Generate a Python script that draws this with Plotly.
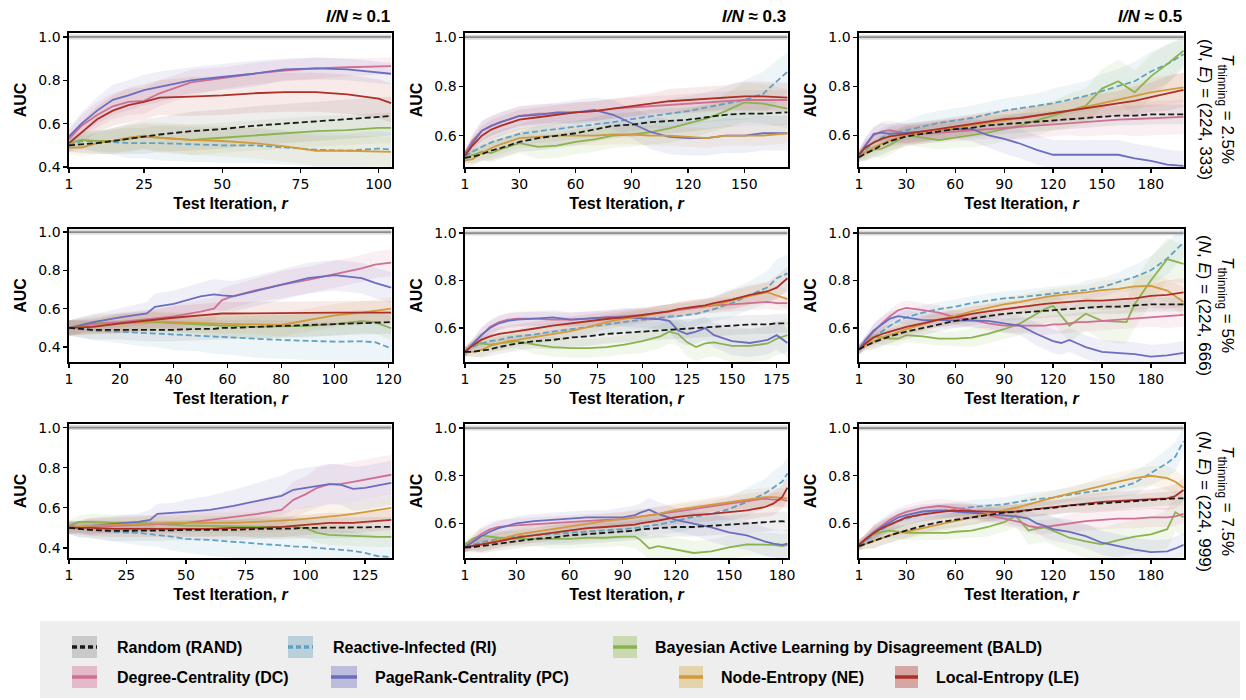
import plotly.graph_objects as go

W, H = 1246, 700

SERIES = ["RAND", "RI", "BALD", "DC", "PC", "NE", "LE"]
DRAW_ORDER = ["RI", "BALD", "DC", "PC", "NE", "LE", "RAND"]
LABELS = {
    "RAND": "Random (RAND)",
    "RI": "Reactive-Infected (RI)",
    "BALD": "Bayesian Active Learning by Disagreement (BALD)",
    "DC": "Degree-Centrality (DC)",
    "PC": "PageRank-Centrality (PC)",
    "NE": "Node-Entropy (NE)",
    "LE": "Local-Entropy (LE)",
}
LINE_COLORS = {"RAND": "#1a1a1a", "RI": "#62a0c2", "BALD": "#8ab350", "DC": "#cf6f93",
               "PC": "#6b6dbf", "NE": "#d29a3c", "LE": "#ad2f25"}
BAND_COLORS = {"RAND": "rgba(120,120,120,0.13)", "RI": "rgba(98,160,194,0.11)",
               "BALD": "rgba(138,179,80,0.11)", "DC": "rgba(207,111,147,0.11)",
               "PC": "rgba(107,109,191,0.11)", "NE": "rgba(210,154,60,0.11)",
               "LE": "rgba(173,47,37,0.10)"}
SWATCH_COLORS = {"RAND": "#c9c9c9", "RI": "#b9d0db", "BALD": "#c9dab0", "DC": "#e4b9c9",
                 "PC": "#bcbcdc", "NE": "#e5d3ab", "LE": "#d6a6a3"}
DASH = {"RAND": "6px,3px", "RI": "6px,3px"}

PERFECT_AUC = 1.0
COL_RATIO = ["0.1", "0.3", "0.5"]
ROW_THINNING = ["2.5%", "5%", "7.5%"]
ROW_NE = ["(224, 333)", "(224, 666)", "(224, 999)"]

# ---------------- Row 1 (T_thinning = 2.5%) ----------------
R1C1_X = [1, 5, 10, 15, 20, 25, 30, 40, 50, 60, 70, 80, 90, 100, 104]
R1C1_RAND = [0.50, 0.505, 0.51, 0.52, 0.53, 0.54, 0.55, 0.565, 0.575, 0.59, 0.60, 0.61, 0.62, 0.63, 0.635]
R1C1_RI = [0.50, 0.52, 0.52, 0.515, 0.51, 0.51, 0.51, 0.505, 0.50, 0.50, 0.49, 0.48, 0.475, 0.485, 0.48]
R1C1_BALD = [0.51, 0.525, 0.52, 0.52, 0.53, 0.54, 0.535, 0.525, 0.535, 0.545, 0.555, 0.565, 0.57, 0.58, 0.58]
R1C1_DC = [0.53, 0.59, 0.64, 0.68, 0.70, 0.705, 0.74, 0.79, 0.81, 0.83, 0.845, 0.855, 0.86, 0.865, 0.865]
R1C1_PC = [0.54, 0.60, 0.66, 0.71, 0.73, 0.755, 0.77, 0.80, 0.815, 0.83, 0.85, 0.855, 0.85, 0.835, 0.83]
R1C1_NE = [0.49, 0.49, 0.51, 0.52, 0.535, 0.545, 0.535, 0.525, 0.52, 0.51, 0.495, 0.475, 0.475, 0.47, 0.47]
R1C1_LE = [0.51, 0.56, 0.62, 0.66, 0.685, 0.70, 0.72, 0.725, 0.73, 0.74, 0.745, 0.745, 0.735, 0.715, 0.695]
R1C1_RAND_SD = [0.03, 0.04, 0.05, 0.06, 0.07, 0.08, 0.08, 0.09, 0.09, 0.09, 0.09, 0.09, 0.09, 0.09, 0.09]
R1C1_RI_SD = [0.03, 0.04, 0.05, 0.06, 0.07, 0.07, 0.08, 0.08, 0.08, 0.08, 0.08, 0.08, 0.08, 0.08, 0.08]
R1C1_BALD_SD = [0.03, 0.04, 0.05, 0.05, 0.06, 0.06, 0.06, 0.07, 0.07, 0.07, 0.07, 0.07, 0.07, 0.07, 0.07]
R1C1_DC_SD = [0.04, 0.05, 0.06, 0.06, 0.06, 0.06, 0.06, 0.06, 0.05, 0.05, 0.05, 0.05, 0.04, 0.04, 0.04]
R1C1_PC_SD = [0.04, 0.05, 0.06, 0.07, 0.07, 0.07, 0.07, 0.06, 0.06, 0.06, 0.05, 0.05, 0.05, 0.05, 0.05]
R1C1_NE_SD = [0.03, 0.04, 0.05, 0.06, 0.06, 0.06, 0.07, 0.07, 0.07, 0.07, 0.07, 0.07, 0.07, 0.07, 0.07]
R1C1_LE_SD = [0.04, 0.05, 0.06, 0.07, 0.08, 0.08, 0.08, 0.09, 0.09, 0.09, 0.09, 0.09, 0.09, 0.09, 0.09]

R1C2_X = [1, 5, 10, 15, 20, 30, 40, 50, 60, 70, 80, 90, 100, 110, 120, 130, 140, 150, 160, 173]
R1C2_RAND = [0.51, 0.515, 0.525, 0.54, 0.55, 0.575, 0.59, 0.60, 0.61, 0.625, 0.64, 0.645, 0.655, 0.66, 0.665, 0.675, 0.685, 0.69, 0.69, 0.695]
R1C2_RI = [0.515, 0.535, 0.555, 0.573, 0.585, 0.607, 0.618, 0.627, 0.637, 0.645, 0.655, 0.667, 0.68, 0.69, 0.70, 0.716, 0.73, 0.745, 0.77, 0.86]
R1C2_BALD = [0.51, 0.52, 0.535, 0.53, 0.545, 0.57, 0.555, 0.56, 0.575, 0.585, 0.60, 0.605, 0.615, 0.63, 0.65, 0.67, 0.70, 0.735, 0.73, 0.71]
R1C2_DC = [0.53, 0.58, 0.62, 0.64, 0.655, 0.68, 0.69, 0.69, 0.695, 0.70, 0.71, 0.715, 0.72, 0.725, 0.73, 0.735, 0.74, 0.745, 0.745, 0.745]
R1C2_PC = [0.52, 0.57, 0.62, 0.64, 0.655, 0.68, 0.685, 0.695, 0.695, 0.705, 0.685, 0.65, 0.615, 0.595, 0.59, 0.59, 0.60, 0.60, 0.61, 0.61]
R1C2_NE = [0.50, 0.505, 0.53, 0.55, 0.565, 0.59, 0.595, 0.60, 0.60, 0.60, 0.605, 0.605, 0.60, 0.60, 0.595, 0.59, 0.60, 0.60, 0.60, 0.61]
R1C2_LE = [0.52, 0.56, 0.60, 0.625, 0.64, 0.665, 0.675, 0.685, 0.695, 0.70, 0.71, 0.72, 0.73, 0.74, 0.745, 0.75, 0.755, 0.76, 0.76, 0.755]
R1C2_RAND_SD = [0.02, 0.03, 0.03, 0.04, 0.04, 0.04, 0.05, 0.05, 0.05, 0.05, 0.05, 0.05, 0.05, 0.05, 0.05, 0.05, 0.05, 0.05, 0.05, 0.05]
R1C2_RI_SD = [0.02, 0.03, 0.03, 0.04, 0.04, 0.04, 0.05, 0.05, 0.05, 0.05, 0.05, 0.05, 0.05, 0.06, 0.06, 0.06, 0.07, 0.08, 0.09, 0.08]
R1C2_BALD_SD = [0.02, 0.03, 0.03, 0.04, 0.04, 0.04, 0.05, 0.05, 0.05, 0.05, 0.05, 0.05, 0.05, 0.06, 0.06, 0.06, 0.07, 0.08, 0.08, 0.08]
R1C2_DC_SD = [0.02, 0.03, 0.04, 0.04, 0.04, 0.04, 0.04, 0.04, 0.04, 0.04, 0.04, 0.04, 0.04, 0.04, 0.04, 0.04, 0.04, 0.04, 0.04, 0.04]
R1C2_PC_SD = [0.02, 0.03, 0.04, 0.04, 0.04, 0.04, 0.04, 0.04, 0.05, 0.05, 0.06, 0.06, 0.07, 0.07, 0.07, 0.07, 0.07, 0.07, 0.07, 0.07]
R1C2_NE_SD = [0.02, 0.03, 0.03, 0.04, 0.04, 0.04, 0.04, 0.04, 0.04, 0.04, 0.04, 0.04, 0.04, 0.04, 0.04, 0.04, 0.04, 0.04, 0.04, 0.04]
R1C2_LE_SD = [0.02, 0.03, 0.04, 0.04, 0.04, 0.04, 0.04, 0.04, 0.04, 0.04, 0.04, 0.04, 0.04, 0.05, 0.05, 0.05, 0.05, 0.06, 0.06, 0.06]

R1C3_X = [1, 5, 10, 15, 20, 30, 40, 50, 60, 70, 80, 90, 100, 110, 120, 130, 140, 150, 160, 170, 180, 190, 200]
R1C3_RAND = [0.51, 0.525, 0.54, 0.56, 0.575, 0.595, 0.605, 0.615, 0.625, 0.63, 0.64, 0.645, 0.65, 0.655, 0.66, 0.665, 0.67, 0.675, 0.68, 0.68, 0.685, 0.685, 0.685]
R1C3_RI = [0.515, 0.54, 0.57, 0.59, 0.605, 0.62, 0.635, 0.65, 0.66, 0.67, 0.685, 0.70, 0.71, 0.72, 0.73, 0.745, 0.76, 0.78, 0.80, 0.82, 0.86, 0.89, 0.93]
R1C3_BALD = [0.52, 0.53, 0.54, 0.545, 0.56, 0.60, 0.59, 0.58, 0.59, 0.60, 0.61, 0.625, 0.64, 0.66, 0.68, 0.70, 0.72, 0.79, 0.82, 0.775, 0.84, 0.89, 0.945]
R1C3_DC = [0.52, 0.56, 0.60, 0.615, 0.62, 0.605, 0.605, 0.61, 0.615, 0.62, 0.625, 0.63, 0.635, 0.64, 0.645, 0.65, 0.655, 0.66, 0.663, 0.666, 0.668, 0.672, 0.675]
R1C3_PC = [0.52, 0.56, 0.605, 0.61, 0.605, 0.61, 0.615, 0.62, 0.625, 0.625, 0.60, 0.585, 0.565, 0.54, 0.52, 0.52, 0.52, 0.52, 0.52, 0.505, 0.495, 0.48, 0.475]
R1C3_NE = [0.51, 0.53, 0.55, 0.565, 0.58, 0.60, 0.61, 0.62, 0.63, 0.64, 0.65, 0.66, 0.67, 0.68, 0.69, 0.70, 0.715, 0.73, 0.745, 0.76, 0.775, 0.785, 0.795]
R1C3_LE = [0.52, 0.55, 0.57, 0.585, 0.595, 0.605, 0.615, 0.625, 0.635, 0.645, 0.655, 0.665, 0.67, 0.68, 0.69, 0.70, 0.71, 0.72, 0.73, 0.74, 0.755, 0.77, 0.785]
R1C3_RAND_SD = [0.02, 0.03, 0.03, 0.04, 0.04, 0.04, 0.04, 0.04, 0.04, 0.04, 0.04, 0.04, 0.04, 0.04, 0.04, 0.04, 0.04, 0.04, 0.04, 0.04, 0.04, 0.04, 0.04]
R1C3_RI_SD = [0.02, 0.03, 0.03, 0.04, 0.04, 0.04, 0.05, 0.05, 0.05, 0.05, 0.05, 0.05, 0.05, 0.05, 0.06, 0.06, 0.06, 0.07, 0.07, 0.08, 0.08, 0.08, 0.06]
R1C3_BALD_SD = [0.02, 0.03, 0.03, 0.04, 0.04, 0.04, 0.04, 0.04, 0.04, 0.05, 0.05, 0.05, 0.05, 0.06, 0.06, 0.07, 0.07, 0.08, 0.09, 0.09, 0.09, 0.08, 0.06]
R1C3_DC_SD = [0.02, 0.03, 0.03, 0.04, 0.04, 0.04, 0.04, 0.04, 0.04, 0.04, 0.04, 0.05, 0.05, 0.05, 0.05, 0.05, 0.06, 0.06, 0.06, 0.07, 0.07, 0.07, 0.07]
R1C3_PC_SD = [0.02, 0.03, 0.03, 0.04, 0.04, 0.04, 0.04, 0.04, 0.04, 0.05, 0.05, 0.06, 0.06, 0.06, 0.06, 0.06, 0.06, 0.06, 0.06, 0.06, 0.06, 0.06, 0.06]
R1C3_NE_SD = [0.02, 0.03, 0.03, 0.03, 0.04, 0.04, 0.04, 0.04, 0.04, 0.04, 0.04, 0.04, 0.04, 0.04, 0.04, 0.04, 0.05, 0.05, 0.05, 0.05, 0.06, 0.06, 0.06]
R1C3_LE_SD = [0.02, 0.03, 0.03, 0.03, 0.04, 0.04, 0.04, 0.04, 0.04, 0.04, 0.04, 0.04, 0.04, 0.04, 0.04, 0.04, 0.05, 0.05, 0.05, 0.06, 0.06, 0.07, 0.07]

# ---------------- Row 2 (T_thinning = 5%) ----------------
R2C1_X = [1, 10, 20, 30, 33, 40, 50, 55, 58, 62, 70, 80, 90, 100, 110, 115, 121]
R2C1_RAND = [0.50, 0.49, 0.49, 0.49, 0.49, 0.49, 0.495, 0.495, 0.50, 0.50, 0.505, 0.51, 0.515, 0.52, 0.525, 0.528, 0.53]
R2C1_RI = [0.50, 0.485, 0.48, 0.472, 0.47, 0.465, 0.457, 0.454, 0.45, 0.448, 0.444, 0.437, 0.432, 0.428, 0.43, 0.425, 0.393]
R2C1_BALD = [0.50, 0.525, 0.525, 0.53, 0.53, 0.525, 0.52, 0.515, 0.51, 0.51, 0.505, 0.506, 0.51, 0.52, 0.535, 0.53, 0.498]
R2C1_DC = [0.50, 0.52, 0.53, 0.545, 0.55, 0.56, 0.585, 0.60, 0.645, 0.665, 0.695, 0.725, 0.75, 0.78, 0.81, 0.83, 0.84]
R2C1_PC = [0.50, 0.53, 0.555, 0.575, 0.61, 0.625, 0.665, 0.675, 0.67, 0.665, 0.69, 0.725, 0.76, 0.775, 0.76, 0.735, 0.71]
R2C1_NE = [0.50, 0.51, 0.52, 0.533, 0.535, 0.53, 0.524, 0.522, 0.52, 0.52, 0.518, 0.515, 0.54, 0.565, 0.58, 0.59, 0.60]
R2C1_LE = [0.50, 0.505, 0.524, 0.54, 0.545, 0.553, 0.565, 0.57, 0.575, 0.575, 0.575, 0.576, 0.578, 0.58, 0.58, 0.58, 0.58]
R2C1_RAND_SD = [0.04, 0.05, 0.05, 0.06, 0.06, 0.06, 0.06, 0.06, 0.06, 0.06, 0.06, 0.06, 0.06, 0.06, 0.06, 0.06, 0.06]
R2C1_RI_SD = [0.04, 0.05, 0.06, 0.07, 0.07, 0.08, 0.08, 0.09, 0.09, 0.09, 0.10, 0.10, 0.10, 0.10, 0.11, 0.11, 0.11]
R2C1_BALD_SD = [0.04, 0.05, 0.05, 0.05, 0.05, 0.05, 0.05, 0.06, 0.06, 0.06, 0.06, 0.06, 0.06, 0.06, 0.06, 0.06, 0.06]
R2C1_DC_SD = [0.04, 0.04, 0.05, 0.05, 0.05, 0.06, 0.06, 0.06, 0.06, 0.06, 0.06, 0.07, 0.07, 0.07, 0.07, 0.07, 0.07]
R2C1_PC_SD = [0.04, 0.04, 0.05, 0.06, 0.07, 0.07, 0.07, 0.08, 0.08, 0.08, 0.08, 0.08, 0.08, 0.08, 0.08, 0.08, 0.08]
R2C1_NE_SD = [0.04, 0.04, 0.05, 0.05, 0.05, 0.05, 0.05, 0.05, 0.05, 0.05, 0.05, 0.06, 0.06, 0.06, 0.06, 0.06, 0.06]
R2C1_LE_SD = [0.04, 0.04, 0.05, 0.05, 0.05, 0.06, 0.06, 0.06, 0.06, 0.06, 0.06, 0.06, 0.06, 0.06, 0.06, 0.06, 0.06]

R2C2_X = [1, 5, 10, 15, 20, 25, 30, 40, 50, 60, 70, 80, 90, 100, 110, 115, 120, 125, 130, 135, 140, 150, 160, 170, 175, 181]
R2C2_RAND = [0.50, 0.50, 0.505, 0.51, 0.52, 0.527, 0.535, 0.545, 0.55, 0.56, 0.565, 0.575, 0.58, 0.585, 0.59, 0.592, 0.595, 0.597, 0.60, 0.602, 0.605, 0.61, 0.615, 0.615, 0.62, 0.62]
R2C2_RI = [0.50, 0.52, 0.535, 0.545, 0.55, 0.56, 0.565, 0.573, 0.585, 0.594, 0.605, 0.615, 0.626, 0.635, 0.645, 0.648, 0.65, 0.655, 0.66, 0.67, 0.68, 0.705, 0.737, 0.772, 0.81, 0.83]
R2C2_BALD = [0.50, 0.53, 0.535, 0.53, 0.535, 0.54, 0.545, 0.53, 0.52, 0.515, 0.515, 0.52, 0.53, 0.545, 0.565, 0.585, 0.575, 0.54, 0.52, 0.535, 0.54, 0.525, 0.525, 0.535, 0.555, 0.57]
R2C2_DC = [0.50, 0.53, 0.57, 0.605, 0.625, 0.635, 0.64, 0.64, 0.635, 0.635, 0.64, 0.645, 0.65, 0.655, 0.665, 0.67, 0.675, 0.68, 0.685, 0.69, 0.695, 0.70, 0.705, 0.71, 0.705, 0.705]
R2C2_PC = [0.50, 0.53, 0.57, 0.60, 0.62, 0.63, 0.635, 0.64, 0.645, 0.635, 0.64, 0.645, 0.645, 0.64, 0.637, 0.63, 0.59, 0.575, 0.585, 0.60, 0.57, 0.545, 0.537, 0.55, 0.57, 0.537]
R2C2_NE = [0.50, 0.50, 0.508, 0.525, 0.535, 0.545, 0.55, 0.563, 0.575, 0.587, 0.605, 0.625, 0.64, 0.65, 0.665, 0.672, 0.68, 0.685, 0.69, 0.692, 0.695, 0.715, 0.735, 0.75, 0.737, 0.722]
R2C2_LE = [0.50, 0.525, 0.55, 0.565, 0.575, 0.58, 0.587, 0.598, 0.61, 0.62, 0.63, 0.638, 0.645, 0.655, 0.665, 0.67, 0.68, 0.685, 0.69, 0.695, 0.705, 0.72, 0.74, 0.755, 0.77, 0.81]
R2C2_RAND_SD = [0.02, 0.02, 0.03, 0.03, 0.03, 0.03, 0.03, 0.03, 0.04, 0.04, 0.04, 0.04, 0.04, 0.04, 0.04, 0.04, 0.04, 0.04, 0.04, 0.04, 0.04, 0.04, 0.04, 0.04, 0.04, 0.04]
R2C2_RI_SD = [0.02, 0.02, 0.03, 0.03, 0.03, 0.03, 0.03, 0.04, 0.04, 0.04, 0.04, 0.04, 0.04, 0.04, 0.05, 0.05, 0.05, 0.05, 0.05, 0.05, 0.05, 0.06, 0.06, 0.07, 0.08, 0.08]
R2C2_BALD_SD = [0.02, 0.02, 0.03, 0.03, 0.03, 0.03, 0.03, 0.04, 0.04, 0.04, 0.04, 0.04, 0.04, 0.05, 0.05, 0.05, 0.05, 0.06, 0.06, 0.06, 0.06, 0.07, 0.07, 0.07, 0.07, 0.07]
R2C2_DC_SD = [0.02, 0.02, 0.03, 0.03, 0.03, 0.03, 0.03, 0.03, 0.03, 0.03, 0.03, 0.03, 0.03, 0.03, 0.03, 0.03, 0.03, 0.03, 0.03, 0.03, 0.03, 0.03, 0.03, 0.03, 0.03, 0.03]
R2C2_PC_SD = [0.02, 0.02, 0.03, 0.03, 0.03, 0.03, 0.03, 0.03, 0.03, 0.03, 0.03, 0.03, 0.04, 0.04, 0.04, 0.05, 0.05, 0.05, 0.05, 0.05, 0.05, 0.06, 0.06, 0.06, 0.06, 0.06]
R2C2_NE_SD = [0.02, 0.02, 0.03, 0.03, 0.03, 0.03, 0.03, 0.03, 0.03, 0.03, 0.03, 0.03, 0.03, 0.03, 0.03, 0.03, 0.03, 0.03, 0.03, 0.03, 0.03, 0.04, 0.04, 0.04, 0.04, 0.04]
R2C2_LE_SD = [0.02, 0.02, 0.03, 0.03, 0.03, 0.03, 0.03, 0.03, 0.03, 0.03, 0.03, 0.03, 0.03, 0.03, 0.03, 0.03, 0.03, 0.03, 0.03, 0.03, 0.03, 0.04, 0.04, 0.04, 0.05, 0.05]

R2C3_X = [1, 5, 10, 15, 20, 25, 30, 40, 50, 60, 70, 80, 90, 100, 110, 115, 120, 125, 130, 135, 140, 150, 160, 165, 170, 180, 190, 200]
R2C3_RAND = [0.51, 0.525, 0.54, 0.553, 0.565, 0.575, 0.585, 0.60, 0.615, 0.63, 0.64, 0.65, 0.66, 0.665, 0.67, 0.672, 0.675, 0.677, 0.68, 0.682, 0.685, 0.69, 0.69, 0.692, 0.695, 0.70, 0.70, 0.70]
R2C3_RI = [0.51, 0.535, 0.56, 0.585, 0.61, 0.63, 0.645, 0.665, 0.68, 0.69, 0.705, 0.715, 0.725, 0.73, 0.737, 0.74, 0.744, 0.748, 0.752, 0.756, 0.76, 0.772, 0.794, 0.803, 0.815, 0.843, 0.893, 0.96]
R2C3_BALD = [0.51, 0.545, 0.565, 0.56, 0.555, 0.555, 0.57, 0.565, 0.555, 0.555, 0.56, 0.575, 0.595, 0.62, 0.66, 0.68, 0.694, 0.65, 0.61, 0.635, 0.66, 0.63, 0.625, 0.625, 0.70, 0.80, 0.89, 0.87]
R2C3_DC = [0.51, 0.545, 0.585, 0.62, 0.65, 0.675, 0.685, 0.675, 0.665, 0.645, 0.635, 0.62, 0.61, 0.61, 0.61, 0.61, 0.615, 0.615, 0.62, 0.625, 0.625, 0.63, 0.635, 0.64, 0.64, 0.645, 0.65, 0.655]
R2C3_PC = [0.51, 0.55, 0.59, 0.615, 0.64, 0.65, 0.645, 0.633, 0.633, 0.633, 0.633, 0.63, 0.62, 0.61, 0.575, 0.56, 0.545, 0.537, 0.55, 0.535, 0.52, 0.50, 0.495, 0.495, 0.49, 0.48, 0.485, 0.495]
R2C3_NE = [0.51, 0.527, 0.545, 0.56, 0.57, 0.583, 0.595, 0.615, 0.635, 0.65, 0.67, 0.685, 0.70, 0.71, 0.725, 0.73, 0.735, 0.74, 0.745, 0.747, 0.75, 0.76, 0.765, 0.77, 0.775, 0.777, 0.758, 0.71]
R2C3_LE = [0.51, 0.535, 0.56, 0.575, 0.585, 0.595, 0.605, 0.62, 0.635, 0.645, 0.66, 0.67, 0.68, 0.69, 0.70, 0.702, 0.705, 0.707, 0.71, 0.712, 0.715, 0.715, 0.72, 0.722, 0.725, 0.735, 0.74, 0.75]
R2C3_RAND_SD = [0.02, 0.02, 0.03, 0.03, 0.03, 0.03, 0.03, 0.03, 0.03, 0.03, 0.03, 0.03, 0.03, 0.03, 0.03, 0.03, 0.03, 0.03, 0.03, 0.03, 0.03, 0.03, 0.03, 0.03, 0.03, 0.03, 0.03, 0.03]
R2C3_RI_SD = [0.02, 0.02, 0.03, 0.03, 0.03, 0.03, 0.03, 0.03, 0.03, 0.03, 0.03, 0.03, 0.03, 0.03, 0.03, 0.03, 0.03, 0.03, 0.03, 0.03, 0.04, 0.04, 0.04, 0.05, 0.05, 0.06, 0.07, 0.06]
R2C3_BALD_SD = [0.02, 0.02, 0.03, 0.03, 0.03, 0.03, 0.03, 0.03, 0.03, 0.03, 0.04, 0.04, 0.04, 0.05, 0.06, 0.06, 0.07, 0.07, 0.07, 0.07, 0.07, 0.08, 0.09, 0.09, 0.10, 0.10, 0.09, 0.08]
R2C3_DC_SD = [0.02, 0.02, 0.03, 0.03, 0.03, 0.03, 0.03, 0.03, 0.03, 0.03, 0.03, 0.03, 0.03, 0.03, 0.04, 0.04, 0.04, 0.04, 0.04, 0.04, 0.04, 0.04, 0.04, 0.04, 0.04, 0.04, 0.05, 0.05]
R2C3_PC_SD = [0.02, 0.02, 0.03, 0.03, 0.03, 0.03, 0.03, 0.03, 0.03, 0.03, 0.03, 0.03, 0.04, 0.04, 0.05, 0.05, 0.05, 0.05, 0.05, 0.05, 0.05, 0.05, 0.05, 0.05, 0.05, 0.05, 0.05, 0.05]
R2C3_NE_SD = [0.02, 0.02, 0.03, 0.03, 0.03, 0.03, 0.03, 0.03, 0.03, 0.03, 0.03, 0.03, 0.03, 0.03, 0.03, 0.03, 0.03, 0.03, 0.03, 0.03, 0.03, 0.04, 0.04, 0.04, 0.04, 0.05, 0.05, 0.06]
R2C3_LE_SD = [0.02, 0.02, 0.03, 0.03, 0.03, 0.03, 0.03, 0.03, 0.03, 0.03, 0.03, 0.03, 0.03, 0.03, 0.03, 0.03, 0.03, 0.03, 0.03, 0.03, 0.03, 0.04, 0.04, 0.04, 0.05, 0.05, 0.06, 0.06]

# ---------------- Row 3 (T_thinning = 7.5%) ----------------
R3C1_X = [1, 5, 10, 20, 30, 35, 38, 45, 50, 60, 70, 80, 90, 95, 100, 105, 110, 115, 120, 125, 130, 136]
R3C1_RAND = [0.50, 0.495, 0.49, 0.485, 0.485, 0.485, 0.485, 0.488, 0.49, 0.49, 0.49, 0.495, 0.495, 0.497, 0.50, 0.50, 0.50, 0.50, 0.50, 0.503, 0.505, 0.505]
R3C1_RI = [0.50, 0.495, 0.49, 0.48, 0.475, 0.47, 0.465, 0.455, 0.445, 0.44, 0.43, 0.42, 0.41, 0.408, 0.405, 0.40, 0.395, 0.39, 0.385, 0.375, 0.36, 0.355]
R3C1_BALD = [0.51, 0.53, 0.53, 0.525, 0.525, 0.522, 0.52, 0.515, 0.512, 0.51, 0.507, 0.506, 0.505, 0.505, 0.50, 0.475, 0.465, 0.462, 0.46, 0.457, 0.455, 0.455]
R3C1_DC = [0.51, 0.505, 0.505, 0.51, 0.515, 0.518, 0.52, 0.522, 0.525, 0.54, 0.555, 0.57, 0.59, 0.64, 0.667, 0.70, 0.718, 0.72, 0.73, 0.74, 0.75, 0.765]
R3C1_PC = [0.50, 0.505, 0.51, 0.52, 0.53, 0.54, 0.57, 0.575, 0.58, 0.59, 0.61, 0.635, 0.66, 0.69, 0.70, 0.71, 0.718, 0.715, 0.695, 0.70, 0.71, 0.725]
R3C1_NE = [0.50, 0.505, 0.51, 0.515, 0.52, 0.522, 0.523, 0.525, 0.525, 0.525, 0.525, 0.53, 0.535, 0.54, 0.545, 0.55, 0.555, 0.562, 0.57, 0.58, 0.588, 0.60]
R3C1_LE = [0.50, 0.50, 0.50, 0.495, 0.495, 0.495, 0.495, 0.495, 0.495, 0.495, 0.50, 0.50, 0.505, 0.51, 0.515, 0.52, 0.525, 0.525, 0.525, 0.53, 0.535, 0.54]
R3C1_RAND_SD = [0.03, 0.04, 0.04, 0.05, 0.05, 0.05, 0.05, 0.05, 0.05, 0.05, 0.05, 0.05, 0.05, 0.05, 0.05, 0.05, 0.05, 0.05, 0.05, 0.05, 0.05, 0.05]
R3C1_RI_SD = [0.03, 0.04, 0.04, 0.05, 0.06, 0.06, 0.06, 0.07, 0.07, 0.08, 0.08, 0.09, 0.09, 0.09, 0.10, 0.10, 0.10, 0.10, 0.10, 0.10, 0.10, 0.10]
R3C1_BALD_SD = [0.03, 0.03, 0.04, 0.04, 0.04, 0.04, 0.04, 0.04, 0.05, 0.05, 0.05, 0.05, 0.05, 0.05, 0.05, 0.05, 0.05, 0.05, 0.05, 0.05, 0.05, 0.05]
R3C1_DC_SD = [0.03, 0.03, 0.04, 0.04, 0.04, 0.04, 0.05, 0.05, 0.05, 0.05, 0.06, 0.07, 0.08, 0.09, 0.09, 0.10, 0.10, 0.10, 0.10, 0.10, 0.10, 0.10]
R3C1_PC_SD = [0.03, 0.03, 0.04, 0.04, 0.04, 0.05, 0.05, 0.05, 0.06, 0.07, 0.08, 0.09, 0.10, 0.10, 0.10, 0.10, 0.10, 0.10, 0.11, 0.11, 0.11, 0.11]
R3C1_NE_SD = [0.03, 0.03, 0.04, 0.04, 0.04, 0.04, 0.04, 0.04, 0.04, 0.05, 0.05, 0.05, 0.05, 0.05, 0.06, 0.06, 0.06, 0.06, 0.06, 0.06, 0.06, 0.06]
R3C1_LE_SD = [0.03, 0.03, 0.04, 0.04, 0.04, 0.04, 0.04, 0.04, 0.04, 0.04, 0.04, 0.05, 0.05, 0.05, 0.05, 0.05, 0.05, 0.05, 0.05, 0.05, 0.05, 0.05]

R3C2_X = [1, 5, 10, 15, 20, 30, 40, 50, 60, 70, 80, 90, 97, 100, 105, 110, 120, 130, 140, 150, 160, 170, 175, 180, 183]
R3C2_RAND = [0.50, 0.50, 0.505, 0.51, 0.515, 0.525, 0.535, 0.54, 0.55, 0.555, 0.56, 0.565, 0.57, 0.575, 0.578, 0.58, 0.585, 0.585, 0.59, 0.595, 0.60, 0.605, 0.61, 0.61, 0.605]
R3C2_RI = [0.50, 0.51, 0.52, 0.528, 0.535, 0.545, 0.55, 0.555, 0.56, 0.565, 0.57, 0.575, 0.58, 0.585, 0.59, 0.595, 0.61, 0.628, 0.64, 0.66, 0.69, 0.725, 0.75, 0.775, 0.81]
R3C2_BALD = [0.51, 0.535, 0.55, 0.545, 0.54, 0.535, 0.535, 0.535, 0.535, 0.54, 0.54, 0.545, 0.545, 0.53, 0.495, 0.505, 0.49, 0.476, 0.483, 0.50, 0.512, 0.512, 0.51, 0.505, 0.51]
R3C2_DC = [0.50, 0.525, 0.555, 0.575, 0.585, 0.592, 0.597, 0.60, 0.605, 0.61, 0.615, 0.618, 0.625, 0.628, 0.633, 0.637, 0.647, 0.66, 0.672, 0.683, 0.693, 0.704, 0.70, 0.70, 0.695]
R3C2_PC = [0.50, 0.52, 0.545, 0.565, 0.58, 0.60, 0.61, 0.615, 0.62, 0.625, 0.625, 0.625, 0.635, 0.645, 0.658, 0.64, 0.615, 0.60, 0.583, 0.562, 0.55, 0.525, 0.515, 0.51, 0.515]
R3C2_NE = [0.50, 0.505, 0.51, 0.52, 0.53, 0.553, 0.565, 0.576, 0.59, 0.60, 0.61, 0.618, 0.625, 0.63, 0.635, 0.64, 0.657, 0.668, 0.68, 0.69, 0.70, 0.71, 0.71, 0.707, 0.705]
R3C2_LE = [0.50, 0.505, 0.51, 0.518, 0.525, 0.54, 0.55, 0.56, 0.57, 0.58, 0.585, 0.59, 0.595, 0.60, 0.605, 0.612, 0.626, 0.635, 0.64, 0.647, 0.655, 0.668, 0.683, 0.71, 0.75]
R3C2_RAND_SD = [0.02, 0.02, 0.03, 0.03, 0.03, 0.03, 0.03, 0.03, 0.04, 0.04, 0.04, 0.04, 0.04, 0.04, 0.04, 0.04, 0.04, 0.04, 0.04, 0.04, 0.04, 0.04, 0.04, 0.04, 0.04]
R3C2_RI_SD = [0.02, 0.02, 0.03, 0.03, 0.03, 0.03, 0.03, 0.04, 0.04, 0.04, 0.04, 0.04, 0.04, 0.04, 0.04, 0.04, 0.05, 0.05, 0.05, 0.05, 0.06, 0.06, 0.07, 0.07, 0.07]
R3C2_BALD_SD = [0.02, 0.02, 0.03, 0.03, 0.03, 0.03, 0.03, 0.04, 0.04, 0.04, 0.04, 0.04, 0.05, 0.05, 0.05, 0.05, 0.05, 0.05, 0.05, 0.05, 0.05, 0.05, 0.05, 0.05, 0.05]
R3C2_DC_SD = [0.02, 0.02, 0.03, 0.03, 0.03, 0.03, 0.03, 0.03, 0.03, 0.03, 0.03, 0.03, 0.03, 0.03, 0.03, 0.03, 0.03, 0.03, 0.03, 0.03, 0.03, 0.03, 0.03, 0.03, 0.03]
R3C2_PC_SD = [0.02, 0.02, 0.03, 0.03, 0.03, 0.03, 0.03, 0.03, 0.03, 0.03, 0.03, 0.04, 0.04, 0.04, 0.05, 0.05, 0.05, 0.05, 0.06, 0.06, 0.06, 0.06, 0.06, 0.06, 0.06]
R3C2_NE_SD = [0.02, 0.02, 0.03, 0.03, 0.03, 0.03, 0.03, 0.03, 0.03, 0.03, 0.03, 0.03, 0.03, 0.03, 0.03, 0.03, 0.03, 0.03, 0.03, 0.03, 0.04, 0.04, 0.04, 0.04, 0.04]
R3C2_LE_SD = [0.02, 0.02, 0.03, 0.03, 0.03, 0.03, 0.03, 0.03, 0.03, 0.03, 0.03, 0.03, 0.03, 0.03, 0.03, 0.03, 0.03, 0.03, 0.03, 0.03, 0.04, 0.04, 0.05, 0.05, 0.05]

R3C3_X = [1, 5, 10, 15, 20, 25, 30, 40, 50, 55, 60, 70, 80, 90, 97, 100, 105, 110, 115, 120, 130, 140, 150, 160, 170, 180, 190, 195, 200]
R3C3_RAND = [0.505, 0.515, 0.525, 0.538, 0.55, 0.56, 0.57, 0.59, 0.605, 0.61, 0.615, 0.625, 0.635, 0.645, 0.648, 0.65, 0.655, 0.66, 0.662, 0.665, 0.675, 0.68, 0.685, 0.69, 0.695, 0.70, 0.705, 0.705, 0.705]
R3C3_RI = [0.51, 0.53, 0.55, 0.575, 0.595, 0.61, 0.62, 0.638, 0.65, 0.655, 0.66, 0.668, 0.675, 0.68, 0.688, 0.692, 0.698, 0.702, 0.705, 0.708, 0.72, 0.73, 0.74, 0.75, 0.77, 0.81, 0.853, 0.88, 0.945]
R3C3_BALD = [0.51, 0.535, 0.555, 0.565, 0.57, 0.565, 0.56, 0.56, 0.56, 0.56, 0.565, 0.57, 0.585, 0.605, 0.633, 0.61, 0.57, 0.578, 0.583, 0.57, 0.54, 0.525, 0.512, 0.53, 0.545, 0.554, 0.576, 0.647, 0.626]
R3C3_DC = [0.51, 0.535, 0.565, 0.59, 0.615, 0.635, 0.648, 0.665, 0.673, 0.67, 0.665, 0.655, 0.635, 0.62, 0.612, 0.605, 0.59, 0.583, 0.585, 0.59, 0.60, 0.61, 0.615, 0.62, 0.62, 0.625, 0.625, 0.63, 0.64]
R3C3_PC = [0.51, 0.53, 0.56, 0.585, 0.605, 0.625, 0.635, 0.65, 0.655, 0.655, 0.65, 0.645, 0.64, 0.635, 0.63, 0.626, 0.62, 0.60, 0.59, 0.576, 0.565, 0.547, 0.519, 0.505, 0.49, 0.48, 0.483, 0.495, 0.51]
R3C3_NE = [0.505, 0.515, 0.525, 0.54, 0.55, 0.56, 0.565, 0.58, 0.595, 0.60, 0.61, 0.625, 0.64, 0.655, 0.665, 0.67, 0.68, 0.69, 0.70, 0.708, 0.725, 0.74, 0.757, 0.775, 0.79, 0.80, 0.79, 0.775, 0.75]
R3C3_LE = [0.51, 0.535, 0.56, 0.58, 0.595, 0.61, 0.625, 0.638, 0.648, 0.652, 0.654, 0.652, 0.648, 0.647, 0.65, 0.652, 0.656, 0.66, 0.664, 0.668, 0.676, 0.684, 0.69, 0.694, 0.698, 0.702, 0.705, 0.715, 0.74]
R3C3_RAND_SD = [0.02, 0.02, 0.03, 0.03, 0.03, 0.03, 0.03, 0.03, 0.03, 0.03, 0.03, 0.03, 0.03, 0.03, 0.03, 0.03, 0.03, 0.03, 0.03, 0.03, 0.03, 0.03, 0.03, 0.03, 0.03, 0.03, 0.03, 0.03, 0.03]
R3C3_RI_SD = [0.02, 0.02, 0.03, 0.03, 0.03, 0.03, 0.03, 0.03, 0.03, 0.03, 0.03, 0.03, 0.03, 0.03, 0.03, 0.03, 0.03, 0.03, 0.03, 0.03, 0.03, 0.04, 0.04, 0.04, 0.05, 0.05, 0.06, 0.06, 0.06]
R3C3_BALD_SD = [0.02, 0.02, 0.03, 0.03, 0.03, 0.03, 0.03, 0.03, 0.03, 0.03, 0.03, 0.03, 0.04, 0.04, 0.05, 0.05, 0.06, 0.06, 0.06, 0.06, 0.06, 0.07, 0.07, 0.07, 0.07, 0.07, 0.08, 0.08, 0.08]
R3C3_DC_SD = [0.02, 0.02, 0.03, 0.03, 0.03, 0.03, 0.03, 0.03, 0.03, 0.03, 0.03, 0.03, 0.03, 0.03, 0.03, 0.03, 0.03, 0.03, 0.03, 0.03, 0.04, 0.04, 0.04, 0.04, 0.04, 0.04, 0.04, 0.04, 0.04]
R3C3_PC_SD = [0.02, 0.02, 0.03, 0.03, 0.03, 0.03, 0.03, 0.03, 0.03, 0.03, 0.03, 0.03, 0.03, 0.03, 0.04, 0.04, 0.04, 0.04, 0.05, 0.05, 0.05, 0.05, 0.05, 0.05, 0.05, 0.05, 0.05, 0.05, 0.05]
R3C3_NE_SD = [0.02, 0.02, 0.03, 0.03, 0.03, 0.03, 0.03, 0.03, 0.03, 0.03, 0.03, 0.03, 0.03, 0.03, 0.03, 0.03, 0.03, 0.03, 0.03, 0.03, 0.03, 0.03, 0.04, 0.04, 0.04, 0.04, 0.05, 0.05, 0.05]
R3C3_LE_SD = [0.02, 0.02, 0.03, 0.03, 0.03, 0.03, 0.03, 0.03, 0.03, 0.03, 0.03, 0.03, 0.03, 0.03, 0.03, 0.03, 0.03, 0.03, 0.03, 0.03, 0.03, 0.04, 0.04, 0.04, 0.04, 0.04, 0.05, 0.05, 0.05]

# axis ticks per panel
X_TICKS = {
    "R1C1": [1, 25, 50, 75, 100], "R1C2": [1, 30, 60, 90, 120, 150], "R1C3": [1, 30, 60, 90, 120, 150, 180],
    "R2C1": [1, 20, 40, 60, 80, 100, 120], "R2C2": [1, 25, 50, 75, 100, 125, 150, 175], "R2C3": [1, 30, 60, 90, 120, 150, 180],
    "R3C1": [1, 25, 50, 75, 100, 125], "R3C2": [1, 30, 60, 90, 120, 150, 180], "R3C3": [1, 30, 60, 90, 120, 150, 180],
}
Y_RANGES = {
    "R1C1": [0.40, 1.018], "R1C2": [0.473, 1.017], "R1C3": [0.47, 1.017],
    "R2C1": [0.322, 1.016], "R2C2": [0.457, 1.017], "R2C3": [0.457, 1.017],
    "R3C1": [0.35, 1.018], "R3C2": [0.455, 1.017], "R3C3": [0.455, 1.017],
}
Y_TICKS_FULL = [0.4, 0.6, 0.8, 1.0]

# ---------------- layout (pixels) ----------------
COL_PX = [(69, 392), (465, 788), (859, 1184)]
ROW_PX = [(33, 167), (229, 362), (424, 558)]
ROW_LABEL_Y = [109, 305, 501]

G = globals()
fig = go.Figure()
FONT_SANS = "Liberation Sans, Arial, sans-serif"

for r in range(3):
    for c in range(3):
        key = f"R{r+1}C{c+1}"
        idx = r * 3 + c
        sfx = "" if idx == 0 else str(idx + 1)
        X = G[key + "_X"]
        xr = ("x" + sfx, "y" + sfx)

        # perfect-score reference line
        fig.add_trace(go.Scatter(x=[X[0], X[-1]], y=[PERFECT_AUC, PERFECT_AUC], mode="lines",
                                 line=dict(color="rgba(175,175,175,0.45)", width=5),
                                 xaxis=xr[0], yaxis=xr[1], showlegend=False, hoverinfo="skip"))
        fig.add_trace(go.Scatter(x=[X[0], X[-1]], y=[PERFECT_AUC, PERFECT_AUC], mode="lines",
                                 line=dict(color="#8c8c8c", width=1.8),
                                 xaxis=xr[0], yaxis=xr[1], showlegend=False, hoverinfo="skip"))
        # bands
        for s in DRAW_ORDER:
            m = G[f"{key}_{s}"]
            sd = G[f"{key}_{s}_SD"]
            assert len(m) == len(X) == len(sd), (key, s, len(X), len(m), len(sd))
            up = [a + b for a, b in zip(m, sd)]
            lo = [a - b for a, b in zip(m, sd)]
            fig.add_trace(go.Scatter(x=X + X[::-1], y=up + lo[::-1], fill="toself",
                                     fillcolor=BAND_COLORS[s], line=dict(width=0), mode="lines",
                                     xaxis=xr[0], yaxis=xr[1], showlegend=False, hoverinfo="skip"))
        # mean lines
        for s in DRAW_ORDER:
            fig.add_trace(go.Scatter(x=X, y=G[f"{key}_{s}"], mode="lines", name=LABELS[s],
                                     line=dict(color=LINE_COLORS[s], width=1.8, dash=DASH.get(s, "solid")),
                                     xaxis=xr[0], yaxis=xr[1], showlegend=False))

        x0, x1 = COL_PX[c]
        y0, y1 = ROW_PX[r]
        yr = Y_RANGES[key]
        yt = [v for v in Y_TICKS_FULL if v >= yr[0] - 1e-9]
        common = dict(showline=True, linecolor="black", linewidth=1.6, mirror=True, showgrid=False,
                      zeroline=False, ticks="outside", ticklen=4, tickwidth=1.2, tickcolor="black",
                      automargin=False,
                      tickfont=dict(family="DejaVu Sans", size=14, color="black"))
        fig.layout["xaxis" + sfx] = dict(domain=[x0 / W, x1 / W], range=[1, X[-1] + 0.3],
                                         tickvals=X_TICKS[key], anchor="y" + sfx,
                                         title=dict(text="<b>Test Iteration, <i>r</i></b>", standoff=6,
                                                    font=dict(family=FONT_SANS, size=16, color="black")),
                                         **common)
        fig.layout["yaxis" + sfx] = dict(domain=[1 - y1 / H, 1 - y0 / H], range=yr, tickvals=yt,
                                         tickformat=".1f", anchor="x" + sfx,
                                         title=dict(text="<b>AUC</b>", standoff=8,
                                                    font=dict(family=FONT_SANS, size=16, color="black")),
                                         **common)

annotations = []
shapes = []
# column titles
for c in range(3):
    annotations.append(dict(text=f"<b><i>I/N</i> ≈ {COL_RATIO[c]}</b>", x=COL_PX[c][1] / W, y=1 - 17 / H,
                            xref="paper", yref="paper", xanchor="right", yanchor="middle", showarrow=False,
                            font=dict(family=FONT_SANS, size=17, color="black")))
# row labels (two rotated lines each)
for r in range(3):
    annotations.append(dict(text=f"<i>T</i><sub>thinning</sub> = {ROW_THINNING[r]}",
                            x=1226 / W, y=1 - ROW_LABEL_Y[r] / H, xref="paper", yref="paper",
                            xanchor="center", yanchor="middle", textangle=90, showarrow=False,
                            font=dict(family=FONT_SANS, size=17, color="black")))
    annotations.append(dict(text=f"(<i>N</i>, <i>E</i>) = {ROW_NE[r]}",
                            x=1205 / W, y=1 - ROW_LABEL_Y[r] / H, xref="paper", yref="paper",
                            xanchor="center", yanchor="middle", textangle=90, showarrow=False,
                            font=dict(family=FONT_SANS, size=17, color="black")))

# legend (drawn in paper space)
shapes.append(dict(type="rect", xref="paper", yref="paper", x0=40 / W, x1=1240 / W,
                   y0=1 - 698 / H, y1=1 - 621 / H, fillcolor="#eeeeee", line=dict(width=0), layer="below"))
LEGEND_POS = [("RAND", 72, 97, 115, 647), ("RI", 288, 313, 331, 647), ("BALD", 613, 637, 653, 647),
              ("DC", 72, 97, 115, 677), ("PC", 331, 357, 373, 677), ("NE", 679, 703, 719, 677),
              ("LE", 895, 918, 934, 677)]
for s, sx0, sx1, tx, cy in LEGEND_POS:
    shapes.append(dict(type="rect", xref="paper", yref="paper", x0=sx0 / W, x1=sx1 / W,
                       y0=1 - (cy + 11) / H, y1=1 - (cy - 11) / H, fillcolor=SWATCH_COLORS[s],
                       line=dict(width=0)))
    shapes.append(dict(type="line", xref="paper", yref="paper", x0=sx0 / W, x1=sx1 / W,
                       y0=1 - cy / H, y1=1 - cy / H,
                       line=dict(color=LINE_COLORS[s], width=3.5, dash="5px,3px" if s in DASH else "solid")))
    annotations.append(dict(text=f"<b>{LABELS[s]}</b>", x=tx / W, y=1 - cy / H, xref="paper", yref="paper",
                            xanchor="left", yanchor="middle", showarrow=False,
                            font=dict(family=FONT_SANS, size=16, color="black")))

fig.update_layout(width=W, height=H, autosize=False, margin=dict(l=0, r=0, t=0, b=0),
                  paper_bgcolor="white", plot_bgcolor="white", showlegend=False,
                  annotations=annotations, shapes=shapes)

fig.write_html("out.html", config={"displayModeBar": False, "staticPlot": True},
               post_script="document.body.style.margin='0';document.body.style.padding='0';"
                           "document.documentElement.style.overflow='hidden';")
